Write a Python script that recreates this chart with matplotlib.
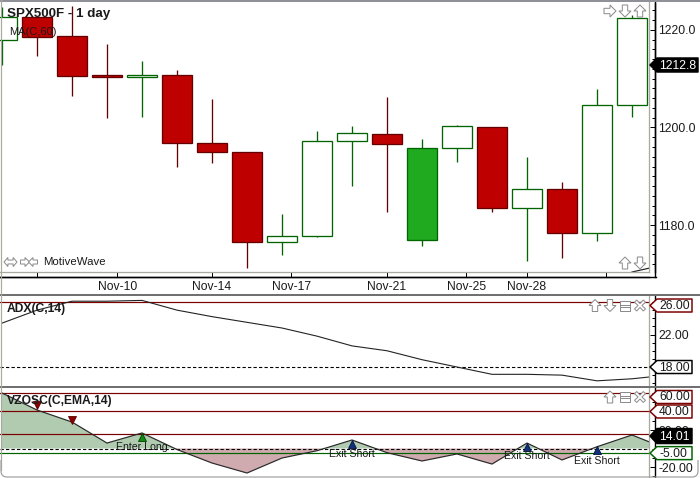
import matplotlib
matplotlib.use('Agg')
import matplotlib.pyplot as plt
from matplotlib.lines import Line2D
from matplotlib.patches import Polygon, FancyBboxPatch
from matplotlib.ticker import MultipleLocator
from matplotlib.transforms import IdentityTransform, Bbox
import numpy as np

W, H = 700, 478
PX = 0.72  # one pixel in points at dpi 100

# price bars
opens = [1217.9, 1222.7, 1218.8, 1210.8, 1210.4, 1210.8, 1196.8, 1195.0, 1176.5, 1177.7,
         1197.2, 1198.7, 1176.9, 1195.8, 1200.1, 1183.5, 1187.4, 1178.4, 1204.6]
closes = [1222.7, 1218.6, 1210.6, 1210.4, 1210.8, 1196.8, 1195.0, 1176.5, 1177.7, 1197.2,
          1198.9, 1196.6, 1195.8, 1200.3, 1183.5, 1187.4, 1178.4, 1204.6, 1222.5]
highs = [1224.7, 1222.7, 1224.9, 1217.1, 1213.6, 1211.8, 1205.8, 1195.0, 1182.3, 1199.3,
         1200.3, 1206.3, 1197.6, 1200.5, 1200.1, 1193.9, 1188.8, 1207.9, 1223.1]
lows = [1212.8, 1214.7, 1206.5, 1202.0, 1202.2, 1191.9, 1192.7, 1171.2, 1173.8, 1177.5,
        1188.0, 1182.7, 1175.7, 1192.9, 1182.7, 1172.6, 1173.2, 1176.7, 1202.2]
solid_up = [12]

ma_x = [18, 19]
ma_vals = [1170.4, 1172.0]

# indicators, last value sits just past the right edge
adx = [23.4, 25.0, 26.1, 26.1, 26.2, 25.0, 24.2, 23.5, 22.8, 21.8,
       20.6, 20.0, 18.9, 18.0, 17.1, 17.1, 17.0, 16.3, 16.55, 17.0]
vzo = [60, 41.6, 28.6, 5.9, 16.8, -1.1, -15.7, -26.5, -10.3, -2.4,
       9.2, -4.5, -13.5, -5.9, -16.8, 5.9, -12.4, 1.9, 14.6, -0.5]

date_ticks = [1, 3.29, 6, 8.26, 11, 13.26, 15, 17.26]
date_labels = ['', 'Nov-10', 'Nov-14', 'Nov-17', 'Nov-21', 'Nov-25', 'Nov-28', '']

signal_x = [1, 2, 4, 10, 15, 17]
signal_y = [46.5, 30.8, 12.4, 5.4, 1.6, -1.6]
signal_txt = [(4, 'Enter Long', 447), (10, 'Exit Short', 454), (15, 'Exit Short', 456), (17, 'Exit Short', 461)]

RED = '#BE0000'
DARKRED = '#640000'
LINERED = '#7A0000'
GREEN = '#006400'
FILLGREEN = '#1FAA1F'
GREY = '#A9A9A0'
BAND = '#707070'
ICON = '#8C8C8C'
TXT = '#1A1A1A'

plt.rcParams['font.family'] = ['Liberation Sans', 'DejaVu Sans']
plt.rcParams['font.size'] = 8.7

fig = plt.figure(figsize=(W / 100, H / 100), dpi=100)


def make_ax(top, bottom):
    ax = fig.add_axes([0, 1 - bottom / H, 649 / W, (bottom - top) / H])
    ax.set_xlim(-2 / 35, 647 / 35)
    for s in ['top', 'left', 'bottom']:
        ax.spines[s].set_visible(False)
    ax.spines['right'].set_position(('outward', 6 * PX))
    ax.spines['right'].set_linewidth(1.4 * PX)
    ax.yaxis.tick_right()
    ax.tick_params(axis='y', which='major', direction='in', length=5 * PX, width=PX, pad=2.4, labelcolor=TXT)
    ax.tick_params(axis='y', which='minor', direction='in', length=3 * PX, width=PX)
    ax.set_xticks([])
    return ax


def px_line(x0, y0, x1, y1, color, lw=1.0, z=5):
    fig.add_artist(Line2D([x0 / W, x1 / W], [1 - y0 / H, 1 - y1 / H], color=color, lw=lw * PX, zorder=z))


def px_text(x, y, s, **kw):
    kw.setdefault('va', 'center')
    kw.setdefault('color', TXT)
    return fig.text(x / W, 1 - y / H, s, zorder=8, **kw)


def tag(ax, val, label, edge, face='white', fg=TXT, shift=0, half=6.5):
    # value flag on the right hand axis
    y = ax.transData.transform((0, val))[1] - shift
    right = 662 + 6 * len(label)
    x = [650, 657, right, right, 657]
    ys = [y, y + half, y + half, y - half, y - half]
    fig.add_artist(Polygon(np.column_stack([x, ys]), closed=True, facecolor=face, edgecolor=edge,
                           lw=1.5 * PX, joinstyle='round', transform=IdentityTransform(), zorder=6))
    fig.text(659, y - 0.5, label, color=fg, va='center', ha='left', transform=IdentityTransform(), zorder=7)


def glyph(cx, cy, pts, size=6.0, angle=0):
    # toolbar icon, outline only
    a = np.radians(angle)
    p = np.array(pts, dtype=float) * size
    rx = p[:, 0] * np.cos(a) - p[:, 1] * np.sin(a)
    ry = p[:, 0] * np.sin(a) + p[:, 1] * np.cos(a)
    fig.add_artist(Polygon(np.column_stack([cx + rx, H - cy + ry]), closed=True, facecolor='white', edgecolor=ICON,
                           lw=1.0 * PX, transform=IdentityTransform(), zorder=7))


ARROW = [(0, 1), (1, 0), (0.45, 0), (0.45, -1), (-0.45, -1), (-0.45, 0), (-1, 0)]
DOUBLE = [(-1, 0), (-0.4, 0.7), (-0.4, 0.3), (0.4, 0.3), (0.4, 0.7), (1, 0), (0.4, -0.7), (0.4, -0.3),
          (-0.4, -0.3), (-0.4, -0.7)]
CROSS = [(-0.6, 1), (0, 0.35), (0.6, 1), (1, 0.6), (0.35, 0), (1, -0.6), (0.6, -1), (0, -0.35),
         (-0.6, -1), (-1, -0.6), (-0.35, 0), (-1, 0.6)]
BOX = [(-1, 1), (1, 1), (1, -1), (-1, -1)]

# main price panel
ax1 = make_ax(3, 272)
ax1.set_ylim(1170.4, 1225.5)
for i in range(len(opens)):
    up = closes[i] >= opens[i]
    wick = GREEN if up else DARKRED
    ax1.vlines(i, lows[i], highs[i], color=wick, lw=1.3 * PX, zorder=2)
    if i in solid_up:
        fc = FILLGREEN
    else:
        fc = 'white' if up else RED
    ax1.bar(i, abs(closes[i] - opens[i]), bottom=min(opens[i], closes[i]), width=30 / 35,
            facecolor=fc, edgecolor=wick, lw=1.3 * PX, zorder=3)
ax1.plot(ma_x, ma_vals, color='#222222', lw=1.2 * PX, zorder=4)
ax1.set_yticks([1180, 1200, 1220], ['1180.0', '1200.0', '1220.0'])
ax1.yaxis.set_minor_locator(MultipleLocator(2))

# date axis is drawn 5px under the panel
ax1.spines['bottom'].set_visible(True)
ax1.spines['bottom'].set_position(('outward', 5 * PX))
ax1.spines['bottom'].set_linewidth(1.4 * PX)
ax1.set_xticks(date_ticks, date_labels)
ax1.tick_params(axis='x', direction='in', length=5 * PX, width=PX, pad=3, labelcolor=TXT)

# ADX panel
ax2 = make_ax(296, 387)
ax2.set_ylim(15.54, 26.74)
ax2.axhline(26, color=LINERED, lw=1.2 * PX)
ax2.axhline(18, color='black', lw=1.1 * PX, ls=(0, (3, 2)))
ax2.plot(range(len(adx)), adx, color='#222222', lw=1.1 * PX, zorder=3)
ax2.set_yticks([22], ['22.00'])
ax2.yaxis.set_minor_locator(MultipleLocator(1))

# VZO panel
ax3 = make_ax(388, 477)
ax3.set_ylim(-30.8, 65.4)
xs = np.arange(len(vzo))
vals = np.array(vzo, dtype=float)
ax3.fill_between(xs, vals, 0, where=vals >= 0, interpolate=True, color='#B0CBB0', lw=0, zorder=1)
ax3.fill_between(xs, vals, 0, where=vals <= 0, interpolate=True, color='#CFAAAE', lw=0, zorder=1)
for lvl in [60, 40, 15.5]:
    ax3.axhline(lvl, color=LINERED, lw=1.2 * PX, zorder=2)
ax3.axhline(-5, color=GREEN, lw=1.2 * PX, zorder=2)
ax3.axhline(0, color='black', lw=1.1 * PX, ls=(0, (3, 2)), zorder=2)
ax3.plot(xs, vals, color='#2A2A2A', lw=1.2 * PX, zorder=3)
ax3.set_yticks([-20, 20], ['-20.00', '20.00'])
ax3.yaxis.set_minor_locator(MultipleLocator(10))

styles = [('v', '#8B0000', '#5A0000'), ('v', '#8B0000', '#5A0000'), ('^', '#108A10', '#004000'),
          ('^', '#10307A', '#001040'), ('^', '#10307A', '#001040'), ('^', '#10307A', '#001040')]
for sx, sy, (m, fc, ec) in zip(signal_x, signal_y, styles):
    ax3.plot(sx, sy, m, ms=5.8, mfc=fc, mec=ec, mew=0.6, zorder=4)
for i, s, py in signal_txt:
    px_text(2 + 35 * i, py, s, ha='center', fontsize=7.6)

# frame lines and bands
for top, bottom in [(2, 272), (296, 387), (388, 477)]:
    px_line(649, top, 649, bottom, GREY, 1.3)
px_line(0, 272, 649, 272, GREY, 1.3)
px_line(0, 277, 655.5, 277, 'black', 1.4)
px_line(655, 2, 655, 277, 'black', 1.4)
px_line(0, 295, 700, 295, BAND, 2)
px_line(0, 387, 700, 387, BAND, 2)
px_line(0, 1, 700, 1, '#909098', 2)
px_line(0.5, 0, 0.5, 470, GREY, 1.2)
outline = FancyBboxPatch((1, 1), 697, 476, boxstyle='round,pad=0,rounding_size=6', fill=False,
                         ec='#A0A0A0', lw=1.2 * PX, transform=IdentityTransform(), zorder=5)
fig.add_artist(outline)
outline.set_clip_box(Bbox([[0, 0], [W, 18]]))

# flags
tag(ax1, 1212.8, '1212.8', 'black', 'black', 'white', half=7)
tag(ax2, 26, '26.00', LINERED, shift=3.5)
tag(ax2, 18, '18.00', 'black')
tag(ax3, 60, '60.00', LINERED, shift=4)
tag(ax3, 40, '40.00', LINERED)
tag(ax3, 13.5, '14.01', 'black', 'black', 'white', half=7.5)
tag(ax3, -5, '-5.00', GREEN)

# titles
px_text(7, 14, 'SPX500F - 1 day', fontweight='bold', fontsize=9.6)
px_text(9, 32, 'MA(C,60)', fontsize=8)
px_text(43, 262, 'MotiveWave', fontsize=8.2)
px_text(7, 309, 'ADX(C,14)', fontweight='bold', fontsize=8.7)
px_text(7, 401, 'VZOSC(C,EMA,14)', fontweight='bold', fontsize=8.7)

# toolbar icons
for cx, cy, ang in [(610, 11, -90), (625, 11, 180), (640, 11, 0), (625, 263, 0), (640, 263, 180),
                    (595, 305.5, 0), (610, 305.5, 180), (610, 397, 0)]:
    glyph(cx, cy, ARROW, angle=ang)
glyph(10.5, 262, DOUBLE, size=6.5)
glyph(25, 262, ARROW, size=4.5, angle=-90)
glyph(33, 262, ARROW, size=4.5, angle=90)
for cx, cy in [(625, 305.5), (625, 397)]:
    glyph(cx, cy, BOX, size=5)
    px_line(cx - 5, cy - 1, cx + 5, cy - 1, ICON, z=7.5)
    px_line(cx - 5, cy + 1, cx + 5, cy + 1, ICON, z=7.5)
for cx, cy in [(640, 305.5), (640, 397)]:
    glyph(cx, cy, CROSS, size=5.5)

fig.savefig('out.png', dpi=100)
